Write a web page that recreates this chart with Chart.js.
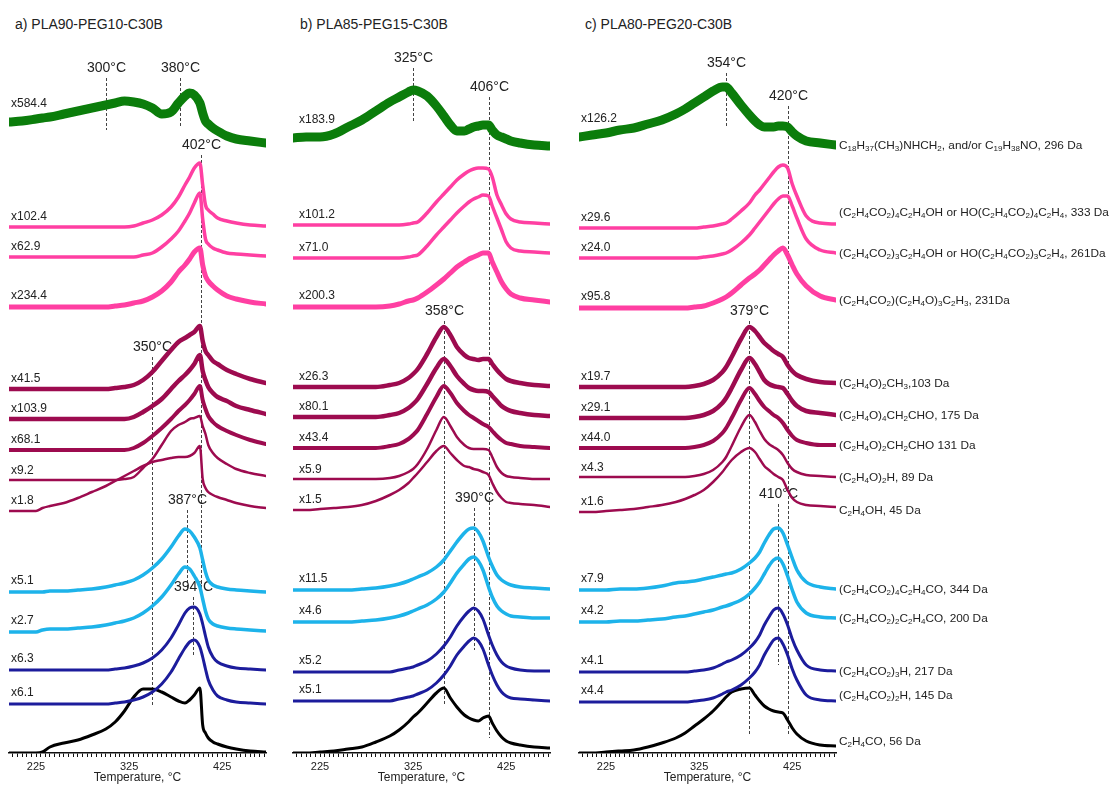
<!DOCTYPE html>
<html>
<head>
<meta charset="utf-8">
<script src="https://cdn.jsdelivr.net/npm/chart.js@4/dist/chart.umd.min.js"></script>
<style>
  html, body { margin: 0; padding: 0; background: #fff; }
  #stage { position: relative; width: 1116px; height: 785px; overflow: hidden;
           font-family: "Liberation Sans", Arial, sans-serif; color: #222; }
  #stage canvas { position: absolute; top: 0; }
  .ttl { position: absolute; top: 17px; font-size: 14px; line-height: 14px; white-space: nowrap; }
  .ion { position: absolute; left: 839px; font-size: 11.8px; line-height: 14px; white-space: nowrap; }
  .ion sub { font-size: 8px; vertical-align: -2px; line-height: 0; }
</style>
</head>
<body>
<div id="stage">
  <div class="ttl" style="left:15px">a) PLA90-PEG10-C30B</div>
  <div class="ttl" style="left:300px">b) PLA85-PEG15-C30B</div>
  <div class="ttl" style="left:585px">c) PLA80-PEG20-C30B</div>
  <canvas id="pa" width="276" height="785" style="left:0px"></canvas>
  <canvas id="pb" width="276" height="785" style="left:284px"></canvas>
  <canvas id="pc" width="276" height="785" style="left:570px"></canvas>
</div>
<script>
// ---------------- temperature grids (°C) ----------------
const tempsA = [196,210,225,232,240,255,270,285,300,310,320,330,340,350,360,370,378,385,390,395,401,404,407,410,415,420,430,440,455,472];
const tempsB = [196,210,225,240,255,270,285,300,310,320,325,330,340,350,358,365,372,380,385,390,395,400,406,410,415,420,425,430,440,455,472];
const tempsC = [196,210,225,240,255,270,285,300,310,320,330,340,350,354,360,370,379,385,390,395,400,405,410,415,420,425,430,440,455,472];

// ---------------- a) PLA90-PEG10-C30B, scaled ion intensities ----------------
const a296 = [21,22,24,25,26,29,32,35,38,40,42,41,39,35,29,31,40,47,50,48,40,30,22,19,15,12,7,4,2,0];
const a333 = [0,0,0,0,0,0,0,0,0,0,0,1,4,7,12,20,30,42,50,59,64,42,22,17,13,9,6,4,2,1];
const a261 = [0,0,0,0,0,0,0,0,0,0,0,0,2,4,10,18,26,36,44,54,64,38,18,13,9,7,4,3,2,1];
const a231 = [0,0,0,0,0,0,0,0,0,1,2,4,6,10,16,25,35,42,48,55,59,42,31,26,21,17,11,8,5,3];
const a103 = [0,0,0,0,0,0,0,0,0,1,2,4,9,17,28,39,47,51,54,57,63,48,38,34,28,25,19,15,10,6];
const a175 = [0,0,0,0,0,0,0,0,0,0,0,2,7,13,20,30,38,44,49,55,64,48,39,32,26,22,18,13,9,5];
const a131 = [0,0,0,0,0,0,0,0,0,0,0,2,7,14,22,31,39,45,50,56,64,50,41,34,28,24,19,15,10,6];
const a89  = [0,0,0,0,0,0,0,0,0,0,1,3,12,21,35,49,55,58,61,62,64,54,46,35,27,22,16,11,7,4];
const a45  = [0,0,0,3,5,8,13,19,25,30,35,40,45,49,51,53,54,54,55,58,65,32,23,19,16,14,11,8,5,3];
const a344 = [0,0,0,0,1,1,2,3,5,7,9,12,17,24,33,45,56,63,61,55,44,32,20,12,7,5,3,2,1,0];
const a200 = [0,0,0,2,3,3,4,5,7,9,11,14,19,26,35,47,58,65,63,56,45,33,21,13,8,6,4,3,2,1];
const a217 = [0,0,0,0,0,0,0,0,0,1,2,4,7,12,20,32,45,57,62,63,56,46,34,23,13,8,4,2,1,0];
const a145 = [0,0,0,0,0,0,0,0,0,1,2,4,7,12,20,32,45,56,62,64,57,47,35,24,14,8,4,2,1,0];
const a56  = [0,0,0,1,6,10,13,18,24,31,42,56,64,64,61,56,52,50,53,58,65,28,20,15,11,9,6,4,2,1];

// ---------------- b) PLA85-PEG15-C30B ----------------
const b296 = [8,9,9,12,19,26,35,44,49,54,56,55,50,40,30,21,15,15,17,19,20,21,21,16,11,9,7,5,3,1,0];
const b333 = [0,0,0,0,0,0,0,0,0,1,2,3,12,23,31,38,45,51,54,56,57,57,56,48,30,20,11,6,3,2,1];
const b261 = [0,0,0,0,0,0,0,0,0,1,2,3,12,23,31,38,45,52,56,59,61,63,62,52,40,28,16,10,7,6,5];
const b231 = [0,0,0,0,0,0,0,1,3,6,7,9,15,22,28,34,40,45,48,50,52,54,54,45,35,25,18,13,9,7,5];
const b103 = [0,0,0,0,0,0,0,2,4,9,13,18,33,50,60,52,40,32,29,28,27,28,28,23,17,12,8,6,4,2,1];
const b175 = [0,0,0,0,0,0,0,2,4,9,13,18,33,49,58,51,41,33,29,27,26,26,25,21,16,11,8,6,4,2,1];
const b131 = [0,0,0,0,0,0,0,2,4,9,13,18,34,51,62,55,45,37,33,30,27,24,21,17,12,8,5,4,2,1,0];
const b89  = [0,0,0,0,0,0,0,1,3,7,10,15,30,49,62,53,42,34,31,30,30,30,29,22,12,6,3,2,1,0,0];
const b45  = [0,0,1,2,3,5,9,15,20,27,32,37,48,59,64,57,50,44,43,41,40,38,35,27,18,12,8,7,6,5,3];
const b344 = [0,0,0,0,0,1,2,4,6,9,11,13,17,23,30,39,48,57,61,62,58,49,33,24,15,10,7,5,3,2,1];
const b200 = [0,0,0,0,0,1,2,4,6,9,11,13,17,23,30,39,49,58,63,65,61,52,35,25,16,11,8,6,5,4,4];
const b217 = [0,0,0,0,0,0,0,0,2,4,5,7,11,18,26,35,46,56,61,64,61,53,37,27,17,10,6,4,2,1,1];
const b145 = [0,0,0,0,0,0,0,0,2,4,5,7,11,18,26,35,46,55,60,63,60,52,36,26,16,9,5,3,2,1,0];
const b56  = [0,0,1,2,4,6,11,17,23,31,36,40,50,60,65,55,46,38,35,33,32,35,37,30,22,16,12,10,8,6,5];

// ---------------- c) PLA80-PEG20-C30B ----------------
const c296 = [8,10,12,15,17,21,25,31,36,42,48,54,58,58,52,40,30,24,20,18,18,18,19,19,18,13,9,4,2,0];
const c333 = [0,0,0,0,0,0,0,0,0,0,1,2,4,5,9,17,25,33,38,44,50,56,61,63,60,44,32,12,5,4];
const c261 = [0,0,0,0,0,0,0,0,0,0,1,2,4,5,8,15,23,30,36,42,48,54,59,62,62,52,40,19,8,5];
const c231 = [0,0,0,0,0,0,0,0,0,1,2,5,9,11,15,23,30,34,38,43,48,53,57,60,53,43,34,22,12,8];
const c103 = [0,0,0,0,0,0,0,0,0,1,3,7,15,20,30,48,60,56,50,44,40,36,33,30,22,16,12,8,5,4];
const c175 = [0,0,0,0,0,0,0,0,0,1,3,7,15,20,30,48,60,54,46,38,34,32,31,30,24,17,12,7,5,3];
const c131 = [0,0,0,0,0,0,0,0,0,1,3,7,15,20,30,48,60,54,47,41,37,33,30,25,18,12,8,5,3,3];
const c89  = [0,0,0,0,0,0,0,0,0,1,3,7,15,20,31,50,62,55,46,38,33,30,27,22,14,8,5,2,1,0];
const c45  = [0,0,1,2,3,5,7,10,13,17,22,30,40,45,52,60,64,60,53,46,42,38,35,32,22,14,10,7,6,5];
const c344 = [0,0,0,1,1,2,4,7,8,9,11,13,15,16,17,21,27,32,38,47,55,61,62,57,45,32,20,8,3,1];
const c200 = [0,0,0,1,1,2,3,5,6,8,10,12,15,16,18,22,28,34,40,48,56,62,64,58,46,32,20,9,5,4];
const c217 = [0,0,0,0,0,0,0,0,0,1,2,4,8,10,12,17,24,30,37,47,55,62,64,58,47,33,22,7,2,1];
const c145 = [0,0,0,0,0,0,0,0,0,1,2,4,8,10,12,17,24,30,37,47,55,62,64,58,47,33,22,7,2,1];
const c56  = [0,0,1,2,3,6,10,15,20,27,34,42,52,56,61,64,65,58,52,47,44,42,41,40,33,25,19,12,8,7];

// ---------------- multiplication factors written beside each trace ----------------
const factorsA = ['x584.4','x102.4','x62.9','x234.4','x41.5','x103.9','x68.1','x9.2','x1.8','x5.1','x2.7','x6.3','x6.1',''];
const factorsB = ['x183.9','x101.2','x71.0','x200.3','x26.3','x80.1','x43.4','x5.9','x1.5','x11.5','x4.6','x5.2','x5.1',''];
const factorsC = ['x126.2','x29.6','x24.0','x95.8','x19.7','x29.1','x44.0','x4.3','x1.6','x7.9','x4.2','x4.1','x4.4',''];

// ---------------- ion assignments ({n} = subscript) ----------------
const ionNames = [
  'C{18}H{37}(CH{3})NHCH{2}, and/or C{19}H{38}NO, 296 Da',
  '(C{2}H{4}CO{2}){4}C{2}H{4}OH or HO(C{2}H{4}CO{2}){4}C{2}H{4}, 333 Da',
  '(C{2}H{4}CO{2}){3}C{2}H{4}OH or HO(C{2}H{4}CO{2}){3}C{2}H{4}, 261Da',
  '(C{2}H{4}CO{2})(C{2}H{4}O){3}C{2}H{3}, 231Da',
  '(C{2}H{4}O){2}CH{3},103 Da',
  '(C{2}H{4}O){4}CH{2}CHO, 175 Da',
  '(C{2}H{4}O){2}CH{2}CHO 131 Da',
  '(C{2}H{4}O){2}H, 89 Da',
  'C{2}H{4}OH, 45 Da',
  '(C{2}H{4}CO{2}){4}C{2}H{4}CO, 344 Da',
  '(C{2}H{4}CO{2}){2}C{2}H{4}CO, 200 Da',
  '(C{2}H{4}CO{2}){3}H, 217 Da',
  '(C{2}H{4}CO{2}){2}H, 145 Da',
  'C{2}H{4}CO, 56 Da'
];

// ---------------- peak temperatures marked with dashed lines ----------------
const peaksA = [300, 380, 402, 350, 387, 394];
const peaksB = [325, 406, 358, 390];
const peaksC = [354, 420, 379, 410];

// ---------------- layout: vertical stacking (px above the axis) and styles ----------------
const stackA = [610, 526, 496, 446, 364, 334, 303, 273, 242, 161, 121, 83, 49, 0];
const stackB = [607, 528, 495, 446, 366, 336, 305, 274, 243, 163, 131, 81, 52, 0];
const stackC = [608, 525, 495, 445, 366, 335, 305, 276, 241, 163, 131, 81, 51, 0];
// vertical extent [top, bottom] of each dashed marker line, same units
const spansA = [[675,623],[675,625],[598,155],[396,48],[243,163],[156,98]];
const spansB = [[685,631],[656,15],[432,48],[245,103]];
const spansC = [[680,625],[647,18],[432,18],[249,88]];

const GREEN = '#0b7d0b', PINK = '#ff3fa2', MAROON = '#9d0b4f', CYAN = '#1db3ea', NAVY = '#1c1c9c', BLACK = '#000000';
const rowStyle = [
  { color: GREEN,  width: 9,   lift: 18 },
  { color: PINK,   width: 3.5, lift: 10 },
  { color: PINK,   width: 3.5, lift: 10 },
  { color: PINK,   width: 5,   lift: 11 },
  { color: MAROON, width: 4.5, lift: 10 },
  { color: MAROON, width: 4.5, lift: 10 },
  { color: MAROON, width: 4,   lift: 10 },
  { color: MAROON, width: 2.5, lift: 9 },
  { color: MAROON, width: 2.5, lift: 10 },
  { color: CYAN,   width: 3.5, lift: 11 },
  { color: CYAN,   width: 3.5, lift: 11 },
  { color: NAVY,   width: 3,   lift: 11 },
  { color: NAVY,   width: 3,   lift: 11 },
  { color: BLACK,  width: 3,   lift: 10 }
];
const ionNudge = [0, -12, 0, 0, 0, 0, 0, 0, 3, 0, 0, 0, -6, -5];

const panels = [
  { id: 'pa', temps: tempsA, series: [a296,a333,a261,a231,a103,a175,a131,a89,a45,a344,a200,a217,a145,a56],
    stack: stackA, factors: factorsA, peaks: peaksA, spans: spansA, labelDx: 2 },
  { id: 'pb', temps: tempsB, series: [b296,b333,b261,b231,b103,b175,b131,b89,b45,b344,b200,b217,b145,b56],
    stack: stackB, factors: factorsB, peaks: peaksB, spans: spansB, labelDx: 6 },
  { id: 'pc', temps: tempsC, series: [c296,c333,c261,c231,c103,c175,c131,c89,c45,c344,c200,c217,c145,c56],
    stack: stackC, factors: factorsC, peaks: peaksC, spans: spansC, labelDx: 2 }
];

const FONT = '"Liberation Sans", Arial, sans-serif';

// draws the dashed peak markers under the traces and the factor labels over them
function annotator(panel) {
  return {
    id: 'annotator_' + panel.id,
    beforeDatasetsDraw(chart) {
      const { ctx } = chart, xs = chart.scales.x, ys = chart.scales.y;
      ctx.save();
      panel.peaks.forEach((t, i) => {
        const x = Math.round(xs.getPixelForValue(t)) + 0.5;
        const yTop = ys.getPixelForValue(panel.spans[i][0]);
        const yBot = ys.getPixelForValue(panel.spans[i][1]);
        ctx.setLineDash([3, 2]);
        ctx.strokeStyle = '#444';
        ctx.lineWidth = 1;
        ctx.beginPath(); ctx.moveTo(x, yTop); ctx.lineTo(x, yBot); ctx.stroke();
        ctx.setLineDash([]);
        ctx.fillStyle = '#222';
        ctx.font = '14px ' + FONT;
        ctx.textAlign = 'center';
        ctx.textBaseline = 'middle';
        ctx.fillText(t + '°C', x, yTop - 10);
      });
      ctx.restore();
    },
    afterDatasetsDraw(chart) {
      const { ctx, chartArea } = chart, ys = chart.scales.y;
      ctx.save();
      ctx.fillStyle = '#222';
      ctx.font = '12px ' + FONT;
      ctx.textAlign = 'left';
      ctx.textBaseline = 'middle';
      panel.factors.forEach((f, i) => {
        if (!f) return;
        const y = ys.getPixelForValue(panel.stack[i] + panel.series[i][0]) - rowStyle[i].lift;
        ctx.fillText(f, chartArea.left + panel.labelDx, y);
      });
      ctx.restore();
    }
  };
}

function buildPanel(panel) {
  const datasets = panel.series.map((vals, i) => ({
    data: vals.map((v, k) => ({ x: panel.temps[k], y: panel.stack[i] + v })),
    borderColor: rowStyle[i].color,
    borderWidth: rowStyle[i].width,
    pointRadius: 0,
    fill: false,
    cubicInterpolationMode: 'monotone',
    borderJoinStyle: 'round',
    borderCapStyle: 'round'
  }));
  const tickValues = [];
  for (let t = 200; t <= 470; t += 5) tickValues.push(t);
  return new Chart(document.getElementById(panel.id), {
    type: 'line',
    data: { datasets },
    options: {
      responsive: false,
      animation: false,
      devicePixelRatio: 1,
      layout: { padding: { left: 9, right: 10, top: 40, bottom: 0 } },
      plugins: { legend: { display: false }, tooltip: { enabled: false } },
      scales: {
        x: {
          type: 'linear', min: 196, max: 472,
          afterBuildTicks: s => { s.ticks = tickValues.map(v => ({ value: v })); },
          afterFit: s => { s.height = 32; },
          grid: { drawOnChartArea: false, drawTicks: true, tickLength: 4, color: '#111', lineWidth: 1 },
          border: { display: true, color: '#111', width: 1.5 },
          ticks: {
            autoSkip: false, maxRotation: 0, padding: 3, color: '#222',
            font: { family: FONT, size: 11 },
            callback: v => (v === 225 || v === 325 || v === 425) ? String(v) : ''
          },
          title: { display: true, text: 'Temperature, °C', color: '#222',
                   font: { family: FONT, size: 12 }, padding: { top: 0, bottom: 0 } }
        },
        y: { display: false, min: 0, max: 713 }
      }
    },
    plugins: [annotator(panel)]
  });
}

const charts = panels.map(buildPanel);

// ion assignments at the right-hand ends of panel c traces
(function placeIonLabels() {
  const chartC = charts[2], panel = panels[2], ys = chartC.scales.y;
  const stage = document.getElementById('stage');
  ionNames.forEach((name, i) => {
    const vals = panel.series[i];
    const y = ys.getPixelForValue(panel.stack[i] + vals[vals.length - 1]) + ionNudge[i];
    const div = document.createElement('div');
    div.className = 'ion';
    div.style.top = (y - 7) + 'px';
    name.split(/(\{\d+\})/).forEach(part => {
      if (!part) return;
      const m = part.match(/^\{(\d+)\}$/);
      if (m) { const s = document.createElement('sub'); s.textContent = m[1]; div.appendChild(s); }
      else div.appendChild(document.createTextNode(part));
    });
    stage.appendChild(div);
  });
})();
</script>
</body>
</html>
